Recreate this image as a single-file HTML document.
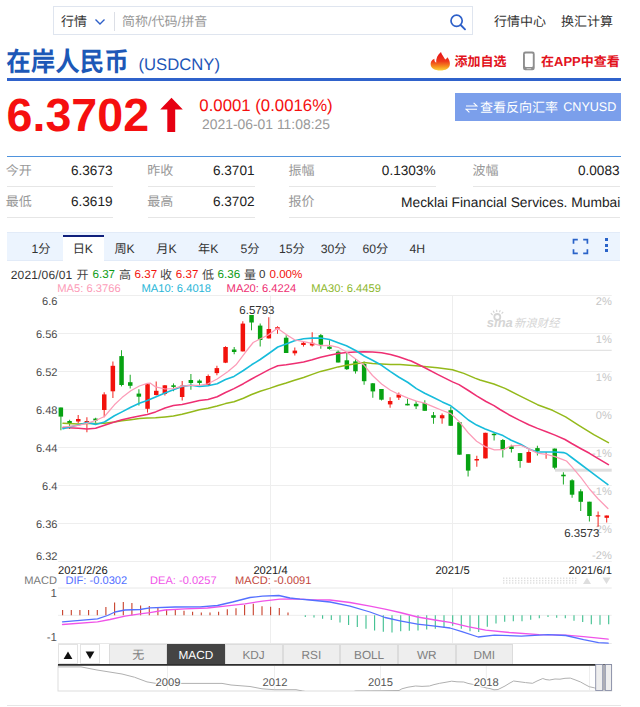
<!DOCTYPE html>
<html lang="zh"><head><meta charset="utf-8"><title>在岸人民币 USDCNY</title><style>
html,body{margin:0;padding:0;background:#fff;}
body{width:640px;height:707px;position:relative;overflow:hidden;font-family:"Liberation Sans", "Noto Sans CJK SC", sans-serif;text-rendering:geometricPrecision;}
.t{position:absolute;white-space:nowrap;}
.b{position:absolute;display:block;}
</style></head><body>
<div class="b" style="left:53.00px;top:6.40px;width:420.30px;height:29.00px;border:1px solid #dfe5ef;box-sizing:border-box;background:#fff;"></div>
<div class="t" style="top:12.00px;height:20px;line-height:20px;font-size:13px;color:#333;left:61.00px;">行情</div>
<svg class="b" style="left:94px;top:17px" width="12" height="10" viewBox="0 0 12 10"><path d="M1.5 2.5 L6 7 L10.5 2.5" fill="none" stroke="#2e60c9" stroke-width="1.4"/></svg>
<div class="b" style="left:114.00px;top:12.00px;width:1.00px;height:19.00px;background:#dcdfe6;"></div>
<div class="t" style="top:12.00px;height:20px;line-height:20px;font-size:13px;color:#999;left:122.00px;">简称/代码/拼音</div>
<svg class="b" style="left:448px;top:12px" width="20" height="20" viewBox="0 0 20 20"><circle cx="8.6" cy="8.8" r="5.6" fill="none" stroke="#2e60c9" stroke-width="1.7"/><path d="M12.7 13 L17 17.3" stroke="#2e60c9" stroke-width="1.9" stroke-linecap="round"/></svg>
<div class="t" style="top:11.50px;height:20px;line-height:20px;font-size:13px;color:#333;left:494.00px;">行情中心</div>
<div class="t" style="top:11.50px;height:20px;line-height:20px;font-size:13px;color:#333;left:561.00px;">换汇计算</div>
<div class="t" style="top:43.60px;height:37px;line-height:37px;font-size:24.5px;color:#1d58b7;left:6.30px;font-weight:bold;transform:scaleY(1.08);">在岸人民币</div>
<div class="t" style="top:52.30px;height:25px;line-height:25px;font-size:16.7px;color:#1f57b8;left:138.40px;">(USDCNY)</div>
<div class="b" style="left:6.50px;top:78.30px;width:614.00px;height:3.00px;background:#2f62cb;"></div>
<svg class="b" style="left:429px;top:50px" width="23" height="23" viewBox="429 50 23 23"><defs><linearGradient id="fl" x1="0" y1="0" x2="0" y2="1"><stop offset="0" stop-color="#e60f19"/><stop offset="0.5" stop-color="#ee3a1b"/><stop offset="0.8" stop-color="#f6941f"/><stop offset="1" stop-color="#fcd23c"/></linearGradient></defs><path d="M441 52 C441.6 55 444 56.8 445.2 59.6 C446 59.2 446.8 58.4 447.3 57.2 C449.3 59.6 450.3 62.4 449.8 65 C449.2 68.4 445.8 70.5 440.3 70.5 C434.8 70.5 431.2 68.4 430.7 65 C430.3 62.4 431.6 60 434.4 58.8 C434.2 60.6 434.8 62 436.2 62.8 C435.8 58.6 437.6 54.6 441 52 Z" fill="url(#fl)"/></svg>
<div class="t" style="top:52.30px;height:20px;line-height:20px;font-size:13px;color:#e2121c;left:454.50px;font-weight:bold;">添加自选</div>
<svg class="b" style="left:521px;top:50px" width="16" height="22" viewBox="521 50 16 22"><rect x="523" y="51.6" width="11.7" height="18.7" rx="2.3" fill="#8e8e8e"/><rect x="524.9" y="53.5" width="7.9" height="13.4" rx="0.8" fill="#fff"/><path d="M526.6 68.7 H531.2" stroke="#d2d2d2" stroke-width="1"/></svg>
<div class="t" style="top:52.30px;height:20px;line-height:20px;font-size:13px;color:#e2121c;left:541.00px;font-weight:bold;">在APP中查看</div>
<div class="t" style="top:90.30px;height:50px;line-height:50px;font-size:46.6px;color:#f50f0f;left:6.60px;font-weight:bold;">6.3702</div>
<svg class="b" style="left:160px;top:96px" width="25" height="38" viewBox="0 0 25 38"><path d="M11.5 1.8 L22.8 13.5 H15.2 V36 H7.3 V13.5 H0.2 Z" fill="#e60012"/></svg>
<div class="t" style="top:93.00px;height:25px;line-height:25px;font-size:16.8px;color:#f50f0f;left:199.30px;">0.0001 (0.0016%)</div>
<div class="t" style="top:114.00px;height:21px;line-height:21px;font-size:13.9px;color:#999;left:202.00px;">2021-06-01 11:08:25</div>
<div class="b" style="left:455.00px;top:92.80px;width:165.60px;height:27.80px;background:#7b9feb;"></div>
<svg class="b" style="left:465px;top:101px" width="13" height="13" viewBox="0 0 13 13"><path d="M1 5 H12 L8.6 1.8 M12 8.2 H1 L4.4 11.4" fill="none" stroke="#fff" stroke-width="1.1"/></svg>
<div class="t" style="top:97.50px;height:20px;line-height:20px;font-size:13px;color:#fff;left:480.00px;">查看反向汇率</div>
<div class="t" style="top:98.00px;height:19px;line-height:19px;font-size:12.6px;color:#fff;left:563.20px;">CNYUSD</div>
<div class="b" style="left:6.50px;top:155.50px;width:614.00px;height:1.30px;background:#4f93dd;"></div>
<div class="t" style="top:161.00px;height:20px;line-height:20px;font-size:13px;color:#999;left:5.70px;">今开</div>
<div class="t" style="top:161.00px;height:20px;line-height:20px;font-size:13.6px;color:#222;right:527.50px;">6.3673</div>
<div class="b" style="left:6.50px;top:186.00px;width:106.50px;height:1.00px;background:#e6e6e6;"></div>
<div class="t" style="top:161.00px;height:20px;line-height:20px;font-size:13px;color:#999;left:147.20px;">昨收</div>
<div class="t" style="top:161.00px;height:20px;line-height:20px;font-size:13.6px;color:#222;right:385.50px;">6.3701</div>
<div class="b" style="left:148.00px;top:186.00px;width:107.00px;height:1.00px;background:#e6e6e6;"></div>
<div class="t" style="top:161.00px;height:20px;line-height:20px;font-size:13px;color:#999;left:288.60px;">振幅</div>
<div class="t" style="top:161.00px;height:20px;line-height:20px;font-size:13.6px;color:#222;right:204.50px;">0.1303%</div>
<div class="b" style="left:289.40px;top:186.00px;width:146.60px;height:1.00px;background:#e6e6e6;"></div>
<div class="t" style="top:161.00px;height:20px;line-height:20px;font-size:13px;color:#999;left:472.50px;">波幅</div>
<div class="t" style="top:161.00px;height:20px;line-height:20px;font-size:13.6px;color:#222;right:20.50px;">0.0083</div>
<div class="b" style="left:473.30px;top:186.00px;width:146.70px;height:1.00px;background:#e6e6e6;"></div>
<div class="t" style="top:192.00px;height:20px;line-height:20px;font-size:13px;color:#999;left:5.70px;">最低</div>
<div class="t" style="top:192.00px;height:20px;line-height:20px;font-size:13.6px;color:#222;right:527.50px;">6.3619</div>
<div class="b" style="left:6.50px;top:217.00px;width:106.50px;height:1.00px;background:#e6e6e6;"></div>
<div class="t" style="top:192.00px;height:20px;line-height:20px;font-size:13px;color:#999;left:147.20px;">最高</div>
<div class="t" style="top:192.00px;height:20px;line-height:20px;font-size:13.6px;color:#222;right:385.50px;">6.3702</div>
<div class="b" style="left:148.00px;top:217.00px;width:107.00px;height:1.00px;background:#e6e6e6;"></div>
<div class="t" style="top:192.00px;height:20px;line-height:20px;font-size:13px;color:#999;left:288.60px;">报价</div>
<div class="t" style="top:191.50px;height:21px;line-height:21px;font-size:13.8px;color:#222;right:19.70px;">Mecklai Financial Services. Mumbai</div>
<div class="b" style="left:289.40px;top:217.00px;width:330.60px;height:1.00px;background:#e6e6e6;"></div>
<div class="b" style="left:6.70px;top:231.70px;width:613.80px;height:29.60px;background:#ecf4fe;border-top:1px solid #e2ebf8;border-bottom:1px solid #e2ebf8;box-sizing:border-box;"></div>
<div class="b" style="left:62.60px;top:234.60px;width:41.40px;height:26.70px;background:#fff;border-top:2px solid #10207c;box-sizing:border-box;"></div>
<div class="t" style="top:239.50px;height:18px;line-height:18px;font-size:12.2px;color:#333;left:41.00px;transform:translateX(-50%);">1分</div>
<div class="t" style="top:239.50px;height:18px;line-height:18px;font-size:12.2px;color:#333;left:82.80px;transform:translateX(-50%);">日K</div>
<div class="t" style="top:239.50px;height:18px;line-height:18px;font-size:12.2px;color:#333;left:124.60px;transform:translateX(-50%);">周K</div>
<div class="t" style="top:239.50px;height:18px;line-height:18px;font-size:12.2px;color:#333;left:166.40px;transform:translateX(-50%);">月K</div>
<div class="t" style="top:239.50px;height:18px;line-height:18px;font-size:12.2px;color:#333;left:208.20px;transform:translateX(-50%);">年K</div>
<div class="t" style="top:239.50px;height:18px;line-height:18px;font-size:12.2px;color:#333;left:250.00px;transform:translateX(-50%);">5分</div>
<div class="t" style="top:239.50px;height:18px;line-height:18px;font-size:12.2px;color:#333;left:291.80px;transform:translateX(-50%);">15分</div>
<div class="t" style="top:239.50px;height:18px;line-height:18px;font-size:12.2px;color:#333;left:333.60px;transform:translateX(-50%);">30分</div>
<div class="t" style="top:239.50px;height:18px;line-height:18px;font-size:12.2px;color:#333;left:375.40px;transform:translateX(-50%);">60分</div>
<div class="t" style="top:239.50px;height:18px;line-height:18px;font-size:12.2px;color:#333;left:417.20px;transform:translateX(-50%);">4H</div>
<svg class="b" style="left:572px;top:237.5px" width="17" height="17" viewBox="0 0 17 17"><path d="M1.5 5.8 V1.6 H5.8 M11.2 1.6 H15.4 V5.8 M15.4 11.2 V15.4 H11.2 M5.8 15.4 H1.5 V11.2" fill="none" stroke="#2a63c9" stroke-width="1.7"/></svg>
<div class="b" style="left:604.60px;top:238.30px;width:3.20px;height:3.20px;background:#2a63c9;"></div>
<div class="b" style="left:604.60px;top:243.80px;width:3.20px;height:3.20px;background:#2a63c9;"></div>
<div class="b" style="left:604.60px;top:249.30px;width:3.20px;height:3.20px;background:#2a63c9;"></div>
<div class="t" style="top:265.60px;height:18px;line-height:18px;font-size:12px;color:#333;left:10.80px;letter-spacing:0.15px;">2021/06/01</div>
<div class="t" style="top:265.60px;height:18px;line-height:18px;font-size:12px;color:#444;left:76.50px;">开</div>
<div class="t" style="top:265.60px;height:18px;line-height:18px;font-size:12px;color:#444;left:119.00px;">高</div>
<div class="t" style="top:265.60px;height:18px;line-height:18px;font-size:12px;color:#444;left:160.00px;">收</div>
<div class="t" style="top:265.60px;height:18px;line-height:18px;font-size:12px;color:#444;left:202.00px;">低</div>
<div class="t" style="top:265.60px;height:18px;line-height:18px;font-size:12px;color:#444;left:244.00px;">量</div>
<div class="t" style="top:266.10px;height:17px;line-height:17px;font-size:11.6px;color:#0a9b14;left:92.50px;">6.37</div>
<div class="t" style="top:266.10px;height:17px;line-height:17px;font-size:11.6px;color:#f2120c;left:134.60px;">6.37</div>
<div class="t" style="top:266.10px;height:17px;line-height:17px;font-size:11.6px;color:#f2120c;left:175.80px;">6.37</div>
<div class="t" style="top:266.10px;height:17px;line-height:17px;font-size:11.6px;color:#0a9b14;left:217.60px;">6.36</div>
<div class="t" style="top:266.10px;height:17px;line-height:17px;font-size:11.6px;color:#333;left:259.00px;">0</div>
<div class="t" style="top:266.10px;height:17px;line-height:17px;font-size:11.6px;color:#f2120c;left:269.50px;">0.00%</div>
<div class="t" style="top:280.50px;height:17px;line-height:17px;font-size:11.2px;color:#fc9cb8;left:57.20px;">MA5: 6.3766</div>
<div class="t" style="top:280.50px;height:17px;line-height:17px;font-size:11.2px;color:#29b6d8;left:141.40px;">MA10: 6.4018</div>
<div class="t" style="top:280.50px;height:17px;line-height:17px;font-size:11.2px;color:#ee2f72;left:226.60px;">MA20: 6.4224</div>
<div class="t" style="top:280.50px;height:17px;line-height:17px;font-size:11.2px;color:#8db72c;left:311.30px;">MA30: 6.4459</div>
<svg class="b" style="left:0;top:0" width="640" height="707" viewBox="0 0 640 707" font-family="'Liberation Sans', 'Noto Sans CJK SC', sans-serif">
<path d="M58 295.5 H611.7" stroke="#eeeeee" stroke-width="1"/>
<path d="M58 333.5 H611.7" stroke="#eeeeee" stroke-width="1"/>
<path d="M58 371.5 H611.7" stroke="#eeeeee" stroke-width="1"/>
<path d="M58 409.5 H611.7" stroke="#eeeeee" stroke-width="1"/>
<path d="M58 447.5 H611.7" stroke="#eeeeee" stroke-width="1"/>
<path d="M58 485.5 H611.7" stroke="#eeeeee" stroke-width="1"/>
<path d="M58 523.5 H611.7" stroke="#eeeeee" stroke-width="1"/>
<path d="M58 561.5 H611.7" stroke="#eeeeee" stroke-width="1"/>
<path d="M270.5 295.5 V561.5 M270.5 588 V643.5" stroke="#eeeeee" stroke-width="1"/>
<path d="M452.5 295.5 V561.5 M452.5 588 V643.5" stroke="#eeeeee" stroke-width="1"/>
<path d="M330 350.3 H611.7" stroke="#dcdcdc" stroke-width="1"/>
<rect x="555" y="468.7" width="56.700000000000045" height="3" fill="#dedede"/>
<text x="57.5" y="305.4" text-anchor="end" font-size="11.1" fill="#4d4d4d">6.6</text>
<text x="57.5" y="337.5" text-anchor="end" font-size="11.1" fill="#4d4d4d">6.56</text>
<text x="57.5" y="375.5" text-anchor="end" font-size="11.1" fill="#4d4d4d">6.52</text>
<text x="57.5" y="413.5" text-anchor="end" font-size="11.1" fill="#4d4d4d">6.48</text>
<text x="57.5" y="451.5" text-anchor="end" font-size="11.1" fill="#4d4d4d">6.44</text>
<text x="57.5" y="489.5" text-anchor="end" font-size="11.1" fill="#4d4d4d">6.4</text>
<text x="57.5" y="527.5" text-anchor="end" font-size="11.1" fill="#4d4d4d">6.36</text>
<text x="57.5" y="559.7" text-anchor="end" font-size="11.1" fill="#4d4d4d">6.32</text>
<text x="611.8" y="304.9" text-anchor="end" font-size="11.1" fill="#c6c6c6">2%</text>
<text x="611.8" y="342.9" text-anchor="end" font-size="11.1" fill="#c6c6c6">1%</text>
<text x="611.8" y="380.9" text-anchor="end" font-size="11.1" fill="#c6c6c6">1%</text>
<text x="611.8" y="418.9" text-anchor="end" font-size="11.1" fill="#c6c6c6">0%</text>
<text x="611.8" y="456.9" text-anchor="end" font-size="11.1" fill="#c6c6c6">-1%</text>
<text x="611.8" y="494.9" text-anchor="end" font-size="11.1" fill="#c6c6c6">-1%</text>
<text x="611.8" y="532.9" text-anchor="end" font-size="11.1" fill="#c6c6c6">-2%</text>
<text x="611.8" y="559.3" text-anchor="end" font-size="11.1" fill="#c6c6c6">-2%</text>
<g fill="#d5d5d5"><text x="486.8" y="327.4" font-size="13" font-weight="bold" font-style="italic" textLength="26" lengthAdjust="spacingAndGlyphs">sına</text><circle cx="497.3" cy="317" r="3" fill="none" stroke="#d5d5d5" stroke-width="1.8"/><path d="M492.6 315 L490.8 313.2 M494.2 312.9 L493.2 310.8 M496.8 312 L496.6 309.8 M499.4 312.2 L500.3 310.2 M501.6 313.6 L503.2 312" stroke="#d5d5d5" stroke-width="1.1" fill="none"/><text transform="translate(514,326.8) skewX(-14)" x="0" y="0" font-size="11.3" textLength="45.5" lengthAdjust="spacing">新浪财经</text></g>
<path d="M60.9 407.5 V430.3" stroke="#07a212" stroke-width="1.05" stroke-opacity="0.88"/>
<rect x="58.6" y="407.5" width="4.5" height="9.1" fill="#07a212"/>
<path d="M69.6 419.7 V429.0" stroke="#07a212" stroke-width="1.05" stroke-opacity="0.88"/>
<rect x="67.3" y="421.0" width="4.5" height="2.0" fill="#07a212"/>
<path d="M78.2 415.0 V423.6" stroke="#f2120c" stroke-width="1.05" stroke-opacity="0.88"/>
<rect x="76.0" y="419.0" width="4.5" height="2.5" fill="#f2120c"/>
<path d="M86.9 417.3 V432.2" stroke="#f2120c" stroke-width="1.05" stroke-opacity="0.88"/>
<rect x="84.6" y="421.0" width="4.5" height="1.5" fill="#f2120c"/>
<path d="M95.6 417.7 V422.8" stroke="#07a212" stroke-width="1.05" stroke-opacity="0.88"/>
<rect x="93.3" y="418.6" width="4.5" height="1.9" fill="#07a212"/>
<path d="M104.2 392.3 V417.3" stroke="#f2120c" stroke-width="1.05" stroke-opacity="0.88"/>
<rect x="102.0" y="394.4" width="4.5" height="15.6" fill="#f2120c"/>
<path d="M112.9 361.4 V398.1" stroke="#f2120c" stroke-width="1.05" stroke-opacity="0.88"/>
<rect x="110.6" y="365.8" width="4.5" height="25.5" fill="#f2120c"/>
<path d="M121.5 350.2 V386.4" stroke="#07a212" stroke-width="1.05" stroke-opacity="0.88"/>
<rect x="119.3" y="356.1" width="4.5" height="28.9" fill="#07a212"/>
<path d="M130.2 374.7 V388.4" stroke="#07a212" stroke-width="1.05" stroke-opacity="0.88"/>
<rect x="128.0" y="382.2" width="4.5" height="3.6" fill="#07a212"/>
<path d="M138.9 389.2 V405.6" stroke="#07a212" stroke-width="1.05" stroke-opacity="0.88"/>
<rect x="136.6" y="393.6" width="4.5" height="3.1" fill="#07a212"/>
<path d="M147.5 383.4 V412.6" stroke="#f2120c" stroke-width="1.05" stroke-opacity="0.88"/>
<rect x="145.3" y="384.2" width="4.5" height="24.6" fill="#f2120c"/>
<path d="M156.2 381.4 V395.5" stroke="#f2120c" stroke-width="1.05" stroke-opacity="0.88"/>
<rect x="154.0" y="390.8" width="4.5" height="4.2" fill="#f2120c"/>
<path d="M164.9 385.0 V395.5" stroke="#f2120c" stroke-width="1.05" stroke-opacity="0.88"/>
<rect x="162.6" y="385.3" width="4.5" height="8.6" fill="#f2120c"/>
<path d="M173.5 383.4 V391.2" stroke="#07a212" stroke-width="1.05" stroke-opacity="0.88"/>
<rect x="171.3" y="385.3" width="4.5" height="1.6" fill="#07a212"/>
<path d="M182.2 381.0 V400.6" stroke="#f2120c" stroke-width="1.05" stroke-opacity="0.88"/>
<rect x="179.9" y="385.6" width="4.5" height="11.4" fill="#f2120c"/>
<path d="M190.9 374.0 V389.7" stroke="#07a212" stroke-width="1.05" stroke-opacity="0.88"/>
<rect x="188.6" y="380.0" width="4.5" height="3.0" fill="#07a212"/>
<path d="M199.5 379.4 V385.3" stroke="#07a212" stroke-width="1.05" stroke-opacity="0.88"/>
<rect x="197.3" y="380.6" width="4.5" height="2.4" fill="#07a212"/>
<path d="M208.2 374.4 V385.0" stroke="#f2120c" stroke-width="1.05" stroke-opacity="0.88"/>
<rect x="205.9" y="376.0" width="4.5" height="9.0" fill="#f2120c"/>
<path d="M216.9 365.8 V375.2" stroke="#f2120c" stroke-width="1.05" stroke-opacity="0.88"/>
<rect x="214.6" y="368.1" width="4.5" height="5.0" fill="#f2120c"/>
<path d="M225.5 346.2 V363.1" stroke="#f2120c" stroke-width="1.05" stroke-opacity="0.88"/>
<rect x="223.3" y="347.0" width="4.5" height="15.7" fill="#f2120c"/>
<path d="M234.2 347.0 V354.2" stroke="#07a212" stroke-width="1.05" stroke-opacity="0.88"/>
<rect x="231.9" y="349.5" width="4.5" height="2.5" fill="#07a212"/>
<path d="M242.8 321.2 V351.4" stroke="#f2120c" stroke-width="1.05" stroke-opacity="0.88"/>
<rect x="240.6" y="323.6" width="4.5" height="27.8" fill="#f2120c"/>
<path d="M251.5 315.0 V330.3" stroke="#07a212" stroke-width="1.05" stroke-opacity="0.88"/>
<rect x="249.3" y="315.0" width="4.5" height="7.5" fill="#07a212"/>
<path d="M260.2 323.6 V346.6" stroke="#07a212" stroke-width="1.05" stroke-opacity="0.88"/>
<rect x="257.9" y="325.6" width="4.5" height="14.4" fill="#07a212"/>
<path d="M268.8 317.3 V338.4" stroke="#f2120c" stroke-width="1.05" stroke-opacity="0.88"/>
<rect x="266.6" y="329.0" width="4.5" height="9.4" fill="#f2120c"/>
<path d="M277.5 326.2 V333.8" stroke="#f2120c" stroke-width="1.05" stroke-opacity="0.88"/>
<rect x="275.2" y="327.2" width="4.5" height="1.6" fill="#f2120c"/>
<path d="M286.2 335.3 V353.0" stroke="#07a212" stroke-width="1.05" stroke-opacity="0.88"/>
<rect x="283.9" y="337.7" width="4.5" height="15.3" fill="#07a212"/>
<path d="M294.8 347.5 V355.6" stroke="#f2120c" stroke-width="1.05" stroke-opacity="0.88"/>
<rect x="292.6" y="350.6" width="4.5" height="2.7" fill="#f2120c"/>
<path d="M303.5 341.6 V346.6" stroke="#f2120c" stroke-width="1.05" stroke-opacity="0.88"/>
<rect x="301.2" y="342.8" width="4.5" height="2.2" fill="#f2120c"/>
<path d="M312.2 332.2 V346.6" stroke="#f2120c" stroke-width="1.05" stroke-opacity="0.88"/>
<rect x="309.9" y="342.8" width="4.5" height="2.7" fill="#f2120c"/>
<path d="M320.8 333.9 V348.8" stroke="#07a212" stroke-width="1.05" stroke-opacity="0.88"/>
<rect x="318.6" y="335.2" width="4.5" height="9.5" fill="#07a212"/>
<path d="M329.5 340.3 V349.7" stroke="#07a212" stroke-width="1.05" stroke-opacity="0.88"/>
<rect x="327.2" y="346.6" width="4.5" height="2.3" fill="#07a212"/>
<path d="M338.1 350.5 V362.5" stroke="#07a212" stroke-width="1.05" stroke-opacity="0.88"/>
<rect x="335.9" y="351.7" width="4.5" height="10.8" fill="#07a212"/>
<path d="M346.8 352.0 V370.0" stroke="#07a212" stroke-width="1.05" stroke-opacity="0.88"/>
<rect x="344.6" y="360.3" width="4.5" height="8.9" fill="#07a212"/>
<path d="M355.5 359.0 V373.6" stroke="#07a212" stroke-width="1.05" stroke-opacity="0.88"/>
<rect x="353.2" y="361.4" width="4.5" height="9.9" fill="#07a212"/>
<path d="M364.1 361.4 V384.8" stroke="#07a212" stroke-width="1.05" stroke-opacity="0.88"/>
<rect x="361.9" y="364.0" width="4.5" height="17.2" fill="#07a212"/>
<path d="M372.8 383.0 V397.7" stroke="#07a212" stroke-width="1.05" stroke-opacity="0.88"/>
<rect x="370.6" y="383.3" width="4.5" height="8.1" fill="#07a212"/>
<path d="M381.5 389.0 V400.5" stroke="#07a212" stroke-width="1.05" stroke-opacity="0.88"/>
<rect x="379.2" y="389.0" width="4.5" height="10.7" fill="#07a212"/>
<path d="M390.1 397.3 V407.8" stroke="#f2120c" stroke-width="1.05" stroke-opacity="0.88"/>
<rect x="387.9" y="401.0" width="4.5" height="3.4" fill="#f2120c"/>
<path d="M398.8 392.5 V400.0" stroke="#f2120c" stroke-width="1.05" stroke-opacity="0.88"/>
<rect x="396.5" y="394.5" width="4.5" height="3.1" fill="#f2120c"/>
<path d="M407.5 398.8 V405.3" stroke="#07a212" stroke-width="1.05" stroke-opacity="0.88"/>
<rect x="405.2" y="403.8" width="4.5" height="1.6" fill="#07a212"/>
<path d="M416.1 401.0 V409.0" stroke="#07a212" stroke-width="1.05" stroke-opacity="0.88"/>
<rect x="413.9" y="403.8" width="4.5" height="2.5" fill="#07a212"/>
<path d="M424.8 400.3 V410.8" stroke="#07a212" stroke-width="1.05" stroke-opacity="0.88"/>
<rect x="422.5" y="403.1" width="4.5" height="7.7" fill="#07a212"/>
<path d="M433.5 412.0 V423.8" stroke="#07a212" stroke-width="1.05" stroke-opacity="0.88"/>
<rect x="431.2" y="415.2" width="4.5" height="2.6" fill="#07a212"/>
<path d="M442.1 413.6 V423.8" stroke="#f2120c" stroke-width="1.05" stroke-opacity="0.88"/>
<rect x="439.9" y="415.2" width="4.5" height="3.1" fill="#f2120c"/>
<path d="M450.8 406.9 V425.8" stroke="#07a212" stroke-width="1.05" stroke-opacity="0.88"/>
<rect x="448.5" y="410.2" width="4.5" height="15.6" fill="#07a212"/>
<path d="M459.4 422.2 V454.7" stroke="#07a212" stroke-width="1.05" stroke-opacity="0.88"/>
<rect x="457.2" y="422.2" width="4.5" height="32.5" fill="#07a212"/>
<path d="M468.1 454.2 V476.6" stroke="#07a212" stroke-width="1.05" stroke-opacity="0.88"/>
<rect x="465.9" y="454.2" width="4.5" height="16.4" fill="#07a212"/>
<path d="M476.8 455.8 V466.7" stroke="#f2120c" stroke-width="1.05" stroke-opacity="0.88"/>
<rect x="474.5" y="459.0" width="4.5" height="1.5" fill="#f2120c"/>
<path d="M485.4 432.8 V458.4" stroke="#f2120c" stroke-width="1.05" stroke-opacity="0.88"/>
<rect x="483.2" y="432.8" width="4.5" height="25.6" fill="#f2120c"/>
<path d="M494.1 432.5 V440.6" stroke="#07a212" stroke-width="1.05" stroke-opacity="0.88"/>
<rect x="491.8" y="433.8" width="4.5" height="1.4" fill="#07a212"/>
<path d="M502.8 439.0 V457.5" stroke="#07a212" stroke-width="1.05" stroke-opacity="0.88"/>
<rect x="500.5" y="440.0" width="4.5" height="9.7" fill="#07a212"/>
<path d="M511.4 444.7 V452.5" stroke="#07a212" stroke-width="1.05" stroke-opacity="0.88"/>
<rect x="509.2" y="446.2" width="4.5" height="2.8" fill="#07a212"/>
<path d="M520.1 453.1 V467.7" stroke="#07a212" stroke-width="1.05" stroke-opacity="0.88"/>
<rect x="517.8" y="453.1" width="4.5" height="7.9" fill="#07a212"/>
<path d="M528.8 450.2 V462.7" stroke="#f2120c" stroke-width="1.05" stroke-opacity="0.88"/>
<rect x="526.5" y="452.0" width="4.5" height="10.7" fill="#f2120c"/>
<path d="M537.4 445.8 V455.6" stroke="#07a212" stroke-width="1.05" stroke-opacity="0.88"/>
<rect x="535.2" y="448.1" width="4.5" height="2.9" fill="#07a212"/>
<path d="M546.1 452.0 V458.8" stroke="#f2120c" stroke-width="1.05" stroke-opacity="0.88"/>
<path d="M554.7 448.6 V469.3" stroke="#07a212" stroke-width="1.05" stroke-opacity="0.88"/>
<rect x="552.5" y="448.6" width="4.5" height="19.1" fill="#07a212"/>
<path d="M563.4 472.2 V484.5" stroke="#07a212" stroke-width="1.05" stroke-opacity="0.88"/>
<rect x="561.2" y="474.7" width="4.5" height="1.6" fill="#07a212"/>
<path d="M572.1 479.2 V497.8" stroke="#07a212" stroke-width="1.05" stroke-opacity="0.88"/>
<rect x="569.8" y="480.3" width="4.5" height="14.4" fill="#07a212"/>
<path d="M580.7 489.2 V511.0" stroke="#07a212" stroke-width="1.05" stroke-opacity="0.88"/>
<rect x="578.5" y="491.3" width="4.5" height="10.5" fill="#07a212"/>
<path d="M589.4 501.7 V521.5" stroke="#07a212" stroke-width="1.05" stroke-opacity="0.88"/>
<rect x="587.2" y="501.7" width="4.5" height="14.3" fill="#07a212"/>
<path d="M598.1 511.5 V526.7" stroke="#f2120c" stroke-width="1.05" stroke-opacity="0.88"/>
<rect x="595.8" y="515.3" width="4.5" height="1.2" fill="#f2120c"/>
<path d="M606.7 515.5 V522.5" stroke="#f2120c" stroke-width="1.05" stroke-opacity="0.88"/>
<rect x="604.5" y="515.5" width="4.5" height="2.3" fill="#f2120c"/>
<polyline points="63.0,423.3 78.4,423.9 87.0,423.6 95.6,423.6 104.5,423.3 114.4,422.0 122.0,420.8 130.8,419.7 139.4,418.6 147.2,418.0 155.6,417.8 165.0,416.9 173.4,416.1 182.0,414.2 191.0,411.9 199.4,409.8 208.0,408.3 217.2,406.0 225.5,403.6 234.0,401.8 243.4,398.3 251.6,394.5 260.2,391.3 269.5,388.4 277.8,385.5 286.2,383.0 294.5,380.2 303.6,377.5 312.2,374.4 320.6,371.4 329.5,369.2 338.1,366.9 346.4,365.3 355.6,363.8 364.2,362.5 372.5,363.4 381.6,364.0 390.5,364.5 400.0,364.6 418.8,366.0 437.5,367.8 452.5,369.7 463.8,373.4 475.0,378.1 480.0,380.0 493.8,384.0 505.0,388.4 518.8,395.3 537.5,404.7 552.5,410.3 565.6,416.9 578.8,425.3 593.8,434.7 608.4,442.7" fill="none" stroke="#94b91b" stroke-width="1.5" stroke-linejoin="round" stroke-linecap="round"/>
<polyline points="63.0,427.5 78.4,428.3 87.0,429.0 95.6,428.3 104.5,425.2 114.4,422.0 122.0,419.7 130.8,417.7 139.4,416.1 147.2,414.5 155.6,411.9 165.0,408.0 173.4,405.6 182.0,404.4 191.0,402.5 199.4,400.6 208.0,399.6 217.2,396.8 225.5,392.5 234.0,388.6 243.4,383.7 251.6,379.0 260.2,374.4 269.5,369.4 277.8,365.8 286.2,364.7 294.5,363.4 303.6,361.9 312.2,359.7 320.6,357.2 329.5,355.2 338.1,353.6 346.4,352.5 355.6,352.0 364.2,351.7 372.5,352.0 381.6,352.8 390.5,354.4 398.6,356.7 408.0,360.0 411.2,361.0 422.5,366.5 437.5,374.4 452.5,381.9 459.0,384.6 468.4,390.5 476.6,395.8 486.0,401.5 494.0,405.6 500.0,409.5 508.8,414.7 518.8,419.9 528.8,424.7 537.5,428.4 546.4,431.8 555.0,435.1 565.0,439.5 571.7,443.5 581.0,448.7 589.5,453.3 597.8,458.4 608.4,464.7" fill="none" stroke="#ee2f72" stroke-width="1.55" stroke-linejoin="round" stroke-linecap="round"/>
<polyline points="63.0,428.6 69.5,427.0 78.4,425.0 87.0,422.4 95.6,424.4 104.5,422.0 114.4,415.8 122.0,411.9 130.8,407.2 139.4,403.3 147.2,400.6 155.6,397.0 165.0,393.1 173.4,389.7 182.0,386.4 191.0,385.3 199.4,386.4 208.0,385.8 217.2,383.8 225.5,379.5 234.0,376.4 243.4,370.5 251.6,364.8 260.2,359.5 269.5,353.0 277.8,347.0 286.2,343.9 294.5,340.8 303.6,338.8 312.2,338.1 320.6,338.0 329.5,339.5 338.1,342.7 346.4,345.8 355.6,350.5 364.2,356.0 372.5,360.3 381.6,365.3 390.5,371.6 398.6,377.0 408.0,382.5 416.4,388.6 424.7,393.3 433.0,397.2 442.3,401.9 450.8,405.8 459.0,412.2 468.4,420.0 476.6,425.1 485.2,429.1 494.4,432.5 503.0,435.6 511.2,440.3 520.6,444.2 528.8,448.9 537.3,452.0 546.4,452.0 555.0,452.0 563.6,452.6 566.2,453.4 571.7,457.5 581.0,464.5 589.5,470.9 597.8,477.1 607.9,484.6" fill="none" stroke="#17bcdb" stroke-width="1.6" stroke-linejoin="round" stroke-linecap="round"/>
<polyline points="63.0,427.0 69.5,426.3 78.4,425.4 86.0,423.6 95.6,420.5 104.5,416.5 114.4,404.8 122.0,397.6 130.8,390.8 139.4,386.0 147.2,383.3 150.5,383.2 155.6,386.9 165.0,389.0 173.4,388.7 182.0,386.1 191.0,385.3 199.4,385.3 208.0,383.8 217.2,379.0 227.7,371.8 236.0,364.8 245.6,352.0 253.2,342.5 259.0,339.5 268.5,334.8 277.4,328.2 286.3,334.6 295.0,340.0 303.6,341.6 312.2,343.4 320.6,345.6 329.5,345.3 338.1,347.3 346.4,352.0 355.6,359.0 364.2,365.3 372.5,375.5 381.6,384.0 390.5,390.3 398.6,394.2 408.0,398.1 416.4,401.1 424.7,403.1 433.0,406.6 442.3,410.5 450.8,413.6 459.0,421.4 468.4,433.0 476.6,441.2 485.2,446.6 494.4,449.8 503.0,449.7 511.2,445.8 520.6,445.3 528.8,448.9 537.3,453.1 546.4,454.4 555.0,456.6 563.6,459.8 566.5,461.0 571.7,466.6 581.0,477.6 589.5,489.0 597.8,498.5 607.9,508.5" fill="none" stroke="#fc9cb8" stroke-width="1.25" stroke-linejoin="round" stroke-linecap="round"/>
<text x="256.9" y="313.5" text-anchor="middle" font-size="11.5" fill="#333">6.5793</text>
<text x="581.8" y="537" text-anchor="middle" font-size="11.5" fill="#333">6.3573</text>
<text x="58" y="574" font-size="11.2" fill="#222">2021/2/26</text>
<text x="270.5" y="574" text-anchor="middle" font-size="11.2" fill="#222">2021/4</text>
<text x="452.5" y="574" text-anchor="middle" font-size="11.2" fill="#222">2021/5</text>
<text x="612" y="574" text-anchor="end" font-size="11.2" fill="#222">2021/6/1</text>
<text x="57" y="584" text-anchor="end" font-size="11.1" fill="#777">MACD</text>
<text x="65.5" y="584" font-size="11.1" fill="#5470ff">DIF: -0.0302</text>
<text x="150" y="584" font-size="11.1" fill="#f054e8">DEA: -0.0257</text>
<text x="235" y="584" font-size="11.1" fill="#c2453a">MACD: -0.0091</text>
<g fill="#dedede"><rect x="503.0" y="577.5" width="1.4" height="1.4"/><rect x="506.0" y="577.5" width="1.4" height="1.4"/><rect x="509.0" y="577.5" width="1.4" height="1.4"/><rect x="512.0" y="577.5" width="1.4" height="1.4"/><rect x="515.0" y="577.5" width="1.4" height="1.4"/><rect x="518.0" y="577.5" width="1.4" height="1.4"/><rect x="521.0" y="577.5" width="1.4" height="1.4"/><rect x="524.0" y="577.5" width="1.4" height="1.4"/><rect x="527.0" y="577.5" width="1.4" height="1.4"/><rect x="530.0" y="577.5" width="1.4" height="1.4"/><rect x="533.0" y="577.5" width="1.4" height="1.4"/><rect x="536.0" y="577.5" width="1.4" height="1.4"/><rect x="539.0" y="577.5" width="1.4" height="1.4"/><rect x="542.0" y="577.5" width="1.4" height="1.4"/><rect x="545.0" y="577.5" width="1.4" height="1.4"/><rect x="548.0" y="577.5" width="1.4" height="1.4"/><rect x="551.0" y="577.5" width="1.4" height="1.4"/><rect x="554.0" y="577.5" width="1.4" height="1.4"/><rect x="557.0" y="577.5" width="1.4" height="1.4"/><rect x="560.0" y="577.5" width="1.4" height="1.4"/><rect x="563.0" y="577.5" width="1.4" height="1.4"/><rect x="566.0" y="577.5" width="1.4" height="1.4"/><rect x="569.0" y="577.5" width="1.4" height="1.4"/><rect x="572.0" y="577.5" width="1.4" height="1.4"/><rect x="575.0" y="577.5" width="1.4" height="1.4"/><rect x="503.0" y="579.9" width="1.4" height="1.4"/><rect x="506.0" y="579.9" width="1.4" height="1.4"/><rect x="509.0" y="579.9" width="1.4" height="1.4"/><rect x="512.0" y="579.9" width="1.4" height="1.4"/><rect x="515.0" y="579.9" width="1.4" height="1.4"/><rect x="518.0" y="579.9" width="1.4" height="1.4"/><rect x="521.0" y="579.9" width="1.4" height="1.4"/><rect x="524.0" y="579.9" width="1.4" height="1.4"/><rect x="527.0" y="579.9" width="1.4" height="1.4"/><rect x="530.0" y="579.9" width="1.4" height="1.4"/><rect x="533.0" y="579.9" width="1.4" height="1.4"/><rect x="536.0" y="579.9" width="1.4" height="1.4"/><rect x="539.0" y="579.9" width="1.4" height="1.4"/><rect x="542.0" y="579.9" width="1.4" height="1.4"/><rect x="545.0" y="579.9" width="1.4" height="1.4"/><rect x="548.0" y="579.9" width="1.4" height="1.4"/><rect x="551.0" y="579.9" width="1.4" height="1.4"/><rect x="554.0" y="579.9" width="1.4" height="1.4"/><rect x="557.0" y="579.9" width="1.4" height="1.4"/><rect x="560.0" y="579.9" width="1.4" height="1.4"/><rect x="563.0" y="579.9" width="1.4" height="1.4"/><rect x="566.0" y="579.9" width="1.4" height="1.4"/><rect x="569.0" y="579.9" width="1.4" height="1.4"/><rect x="572.0" y="579.9" width="1.4" height="1.4"/><rect x="575.0" y="579.9" width="1.4" height="1.4"/><rect x="503.0" y="582.3" width="1.4" height="1.4"/><rect x="506.0" y="582.3" width="1.4" height="1.4"/><rect x="509.0" y="582.3" width="1.4" height="1.4"/><rect x="512.0" y="582.3" width="1.4" height="1.4"/><rect x="515.0" y="582.3" width="1.4" height="1.4"/><rect x="518.0" y="582.3" width="1.4" height="1.4"/><rect x="521.0" y="582.3" width="1.4" height="1.4"/><rect x="524.0" y="582.3" width="1.4" height="1.4"/><rect x="527.0" y="582.3" width="1.4" height="1.4"/><rect x="530.0" y="582.3" width="1.4" height="1.4"/><rect x="533.0" y="582.3" width="1.4" height="1.4"/><rect x="536.0" y="582.3" width="1.4" height="1.4"/><rect x="539.0" y="582.3" width="1.4" height="1.4"/><rect x="542.0" y="582.3" width="1.4" height="1.4"/><rect x="545.0" y="582.3" width="1.4" height="1.4"/><rect x="548.0" y="582.3" width="1.4" height="1.4"/><rect x="551.0" y="582.3" width="1.4" height="1.4"/><rect x="554.0" y="582.3" width="1.4" height="1.4"/><rect x="557.0" y="582.3" width="1.4" height="1.4"/><rect x="560.0" y="582.3" width="1.4" height="1.4"/><rect x="563.0" y="582.3" width="1.4" height="1.4"/><rect x="566.0" y="582.3" width="1.4" height="1.4"/><rect x="569.0" y="582.3" width="1.4" height="1.4"/><rect x="572.0" y="582.3" width="1.4" height="1.4"/><rect x="575.0" y="582.3" width="1.4" height="1.4"/><path d="M583 584 L587 577.5 L591 584 Z M602.5 577.5 L606.5 584 L610.5 577.5 Z"/></g>
<path d="M58 588 H611.7 M58 643.5 H611.7" stroke="#e8e8e8" stroke-width="1"/>
<path d="M58 615.3 H611.7" stroke="#ededed" stroke-width="1"/>
<text x="57" y="597" text-anchor="end" font-size="11.5" fill="#555">1</text>
<text x="57" y="640.8" text-anchor="end" font-size="11.5" fill="#555">-1</text>
<path d="M62.6 615.3 V610.0" stroke="#c8402a" stroke-width="1.1"/>
<path d="M71.3 615.3 V610.0" stroke="#c8402a" stroke-width="1.1"/>
<path d="M79.9 615.3 V610.0" stroke="#c8402a" stroke-width="1.1"/>
<path d="M88.6 615.3 V610.0" stroke="#c8402a" stroke-width="1.1"/>
<path d="M97.3 615.3 V610.0" stroke="#c8402a" stroke-width="1.1"/>
<path d="M105.9 615.3 V607.0" stroke="#c8402a" stroke-width="1.1"/>
<path d="M114.6 615.3 V602.5" stroke="#c8402a" stroke-width="1.1"/>
<path d="M123.3 615.3 V602.0" stroke="#c8402a" stroke-width="1.1"/>
<path d="M131.9 615.3 V603.0" stroke="#c8402a" stroke-width="1.1"/>
<path d="M140.6 615.3 V605.5" stroke="#c8402a" stroke-width="1.1"/>
<path d="M149.3 615.3 V606.0" stroke="#c8402a" stroke-width="1.1"/>
<path d="M157.9 615.3 V608.0" stroke="#c8402a" stroke-width="1.1"/>
<path d="M166.6 615.3 V609.5" stroke="#c8402a" stroke-width="1.1"/>
<path d="M175.3 615.3 V610.0" stroke="#c8402a" stroke-width="1.1"/>
<path d="M184.0 615.3 V610.8" stroke="#c8402a" stroke-width="1.1"/>
<path d="M192.6 615.3 V611.8" stroke="#c8402a" stroke-width="1.1"/>
<path d="M201.3 615.3 V612.5" stroke="#c8402a" stroke-width="1.1"/>
<path d="M210.0 615.3 V612.5" stroke="#c8402a" stroke-width="1.1"/>
<path d="M218.6 615.3 V611.8" stroke="#c8402a" stroke-width="1.1"/>
<path d="M227.3 615.3 V609.2" stroke="#c8402a" stroke-width="1.1"/>
<path d="M236.0 615.3 V608.2" stroke="#c8402a" stroke-width="1.1"/>
<path d="M244.6 615.3 V605.0" stroke="#c8402a" stroke-width="1.1"/>
<path d="M253.3 615.3 V603.8" stroke="#c8402a" stroke-width="1.1"/>
<path d="M262.0 615.3 V606.2" stroke="#c8402a" stroke-width="1.1"/>
<path d="M270.6 615.3 V606.8" stroke="#c8402a" stroke-width="1.1"/>
<path d="M279.3 615.3 V608.0" stroke="#c8402a" stroke-width="1.1"/>
<path d="M288.0 615.3 V612.5" stroke="#c8402a" stroke-width="1.1"/>
<path d="M305.3 615.3 V617.0" stroke="#3dbf8e" stroke-width="1.1"/>
<path d="M314.0 615.3 V617.5" stroke="#3dbf8e" stroke-width="1.1"/>
<path d="M322.6 615.3 V618.8" stroke="#3dbf8e" stroke-width="1.1"/>
<path d="M331.3 615.3 V620.0" stroke="#3dbf8e" stroke-width="1.1"/>
<path d="M340.0 615.3 V622.5" stroke="#3dbf8e" stroke-width="1.1"/>
<path d="M348.6 615.3 V625.0" stroke="#3dbf8e" stroke-width="1.1"/>
<path d="M357.3 615.3 V627.0" stroke="#3dbf8e" stroke-width="1.1"/>
<path d="M366.0 615.3 V628.8" stroke="#3dbf8e" stroke-width="1.1"/>
<path d="M374.6 615.3 V630.5" stroke="#3dbf8e" stroke-width="1.1"/>
<path d="M383.3 615.3 V631.8" stroke="#3dbf8e" stroke-width="1.1"/>
<path d="M392.0 615.3 V632.5" stroke="#3dbf8e" stroke-width="1.1"/>
<path d="M400.7 615.3 V631.2" stroke="#3dbf8e" stroke-width="1.1"/>
<path d="M409.3 615.3 V630.8" stroke="#3dbf8e" stroke-width="1.1"/>
<path d="M418.0 615.3 V630.5" stroke="#3dbf8e" stroke-width="1.1"/>
<path d="M426.7 615.3 V629.5" stroke="#3dbf8e" stroke-width="1.1"/>
<path d="M435.3 615.3 V628.8" stroke="#3dbf8e" stroke-width="1.1"/>
<path d="M444.0 615.3 V627.5" stroke="#3dbf8e" stroke-width="1.1"/>
<path d="M452.7 615.3 V625.8" stroke="#3dbf8e" stroke-width="1.1"/>
<path d="M461.3 615.3 V628.8" stroke="#3dbf8e" stroke-width="1.1"/>
<path d="M470.0 615.3 V631.3" stroke="#3dbf8e" stroke-width="1.1"/>
<path d="M478.7 615.3 V632.0" stroke="#3dbf8e" stroke-width="1.1"/>
<path d="M487.3 615.3 V626.8" stroke="#3dbf8e" stroke-width="1.1"/>
<path d="M496.0 615.3 V623.4" stroke="#3dbf8e" stroke-width="1.1"/>
<path d="M504.7 615.3 V621.8" stroke="#3dbf8e" stroke-width="1.1"/>
<path d="M513.3 615.3 V621.3" stroke="#3dbf8e" stroke-width="1.1"/>
<path d="M522.0 615.3 V621.3" stroke="#3dbf8e" stroke-width="1.1"/>
<path d="M530.7 615.3 V619.8" stroke="#3dbf8e" stroke-width="1.1"/>
<path d="M539.3 615.3 V618.3" stroke="#3dbf8e" stroke-width="1.1"/>
<path d="M548.0 615.3 V617.1" stroke="#3dbf8e" stroke-width="1.1"/>
<path d="M556.7 615.3 V617.7" stroke="#3dbf8e" stroke-width="1.1"/>
<path d="M565.3 615.3 V618.3" stroke="#3dbf8e" stroke-width="1.1"/>
<path d="M574.0 615.3 V620.7" stroke="#3dbf8e" stroke-width="1.1"/>
<path d="M582.7 615.3 V622.1" stroke="#3dbf8e" stroke-width="1.1"/>
<path d="M591.3 615.3 V624.2" stroke="#3dbf8e" stroke-width="1.1"/>
<path d="M600.0 615.3 V624.8" stroke="#3dbf8e" stroke-width="1.1"/>
<path d="M608.7 615.3 V624.2" stroke="#3dbf8e" stroke-width="1.1"/>
<polyline points="62.5,624.5 97.5,621.8 110.0,619.5 125.0,616.2 140.0,613.8 150.0,612.6 165.0,610.0 185.0,608.8 207.5,608.0 225.0,606.2 245.0,603.8 262.5,601.2 280.0,599.2 295.0,598.8 310.0,599.6 330.0,600.0 350.0,602.5 370.0,606.2 385.0,609.2 400.0,612.5 417.5,617.0 435.0,620.0 450.0,622.3 467.8,626.6 485.6,630.2 509.4,632.5 539.0,634.6 565.8,635.2 583.6,636.7 598.5,638.2 608.2,639.1" fill="none" stroke="#f054e8" stroke-width="1.3" stroke-linejoin="round" stroke-linecap="round"/>
<polyline points="62.5,621.8 97.5,618.8 107.5,615.5 115.0,612.0 125.0,610.0 140.0,609.5 150.0,607.8 175.0,607.0 200.0,606.8 217.5,605.5 232.5,602.0 250.0,597.5 262.5,596.2 278.8,595.5 290.0,598.0 300.0,599.2 310.0,600.0 330.0,602.0 350.0,606.2 370.0,612.0 385.0,617.5 400.0,620.8 417.5,624.2 435.0,626.2 450.0,628.0 461.9,631.6 478.2,637.0 494.5,635.2 521.3,636.1 548.0,634.6 565.8,635.5 583.6,639.7 598.5,642.6 608.2,643.2" fill="none" stroke="#5470ff" stroke-width="1.3" stroke-linejoin="round" stroke-linecap="round"/>
<rect x="58" y="665" width="553.7" height="26" fill="#fff" stroke="#ddd" stroke-width="1"/>
<path d="M167.5 666 V691" stroke="#eeeeee" stroke-width="1"/>
<path d="M274.5 666 V691" stroke="#eeeeee" stroke-width="1"/>
<path d="M380.5 666 V691" stroke="#eeeeee" stroke-width="1"/>
<path d="M486.3 666 V691" stroke="#eeeeee" stroke-width="1"/>
<path d="M589.5 666 V691" stroke="#eeeeee" stroke-width="1"/>
<clipPath id="mc"><rect x="58" y="665" width="553.7" height="26"/></clipPath>
<g clip-path="url(#mc)"><polyline points="57.8,666.9 81.0,666.9 97.0,670.0 122.0,674.0 134.4,677.2 147.0,681.9 156.0,683.4 181.0,683.4 222.0,683.4 231.0,685.0 250.0,686.5 262.0,688.8 274.4,689.7 296.0,689.7 302.5,691.0 320.0,694.0 345.0,694.0 355.6,691.0 380.0,690.8 399.0,690.5 401.9,688.8 408.0,687.2 415.6,686.0 422.0,686.4 429.4,686.0 434.0,684.6 439.7,683.3 445.0,682.4 451.7,681.2 457.0,681.8 463.7,682.0 468.0,683.4 472.3,684.3 478.0,686.0 484.0,687.4 490.0,688.6 494.0,689.8 498.0,689.5 501.0,688.0 505.0,686.0 509.0,683.5 513.6,681.0 518.0,681.6 525.6,682.6 532.5,683.3 537.0,681.0 542.8,678.5 546.0,679.6 549.6,680.0 555.0,679.0 560.0,679.2 565.0,678.3 570.3,678.1 575.0,679.8 580.6,682.0 585.0,684.5 589.2,686.7 594.3,687.8 598.8,689.4 611.0,690.0" fill="none" stroke="#b0b0b0" stroke-width="1" stroke-linejoin="round" stroke-linecap="round"/></g>
<text x="168" y="686.3" text-anchor="middle" font-size="11.2" fill="#555" stroke="#fff" stroke-width="2.5" paint-order="stroke" stroke-opacity="0.85">2009</text>
<text x="275" y="686.3" text-anchor="middle" font-size="11.2" fill="#555" stroke="#fff" stroke-width="2.5" paint-order="stroke" stroke-opacity="0.85">2012</text>
<text x="380.5" y="686.3" text-anchor="middle" font-size="11.2" fill="#555" stroke="#fff" stroke-width="2.5" paint-order="stroke" stroke-opacity="0.85">2015</text>
<text x="486.3" y="686.3" text-anchor="middle" font-size="11.2" fill="#555" stroke="#fff" stroke-width="2.5" paint-order="stroke" stroke-opacity="0.85">2018</text>
<path d="M58 664.9 H611.7" stroke="#2e2e2e" stroke-width="1.6"/>
<rect x="602.6" y="664.6" width="2.8" height="25.8" fill="#b4b4b8"/>
<rect x="595.7" y="664.5" width="7" height="26" fill="#eeeeee" stroke="#8a90a8" stroke-width="0.9"/>
<rect x="605.3" y="664.5" width="6.2" height="26" fill="#eeeeee" stroke="#8a90a8" stroke-width="0.9"/>
</svg>
<div class="b" style="left:58.00px;top:643.80px;width:19.50px;height:20.00px;border:1px solid #e3e3e3;box-sizing:border-box;background:#fff;"></div>
<div class="b" style="left:80.00px;top:643.80px;width:20.00px;height:20.00px;border:1px solid #e3e3e3;box-sizing:border-box;background:#fff;"></div>
<svg class="b" style="left:62px;top:648px" width="12" height="12" viewBox="0 0 12 12"><path d="M6 3.4 L10.4 11 H1.6 Z" fill="#111"/></svg>
<svg class="b" style="left:84px;top:648px" width="12" height="12" viewBox="0 0 12 12"><path d="M6 11 L10.4 3.4 H1.6 Z" fill="#111"/></svg>
<div class="b" style="left:109.30px;top:643.80px;width:57.70px;height:20.40px;background:#eee;border:1px solid #dcdcdc;border-bottom:none;box-sizing:border-box;"></div>
<div class="t" style="top:645.50px;height:18px;line-height:18px;font-size:12px;color:#808080;left:138.15px;transform:translateX(-50%);">无</div>
<div class="b" style="left:167.00px;top:643.80px;width:57.60px;height:20.40px;background:#444;"></div>
<div class="t" style="top:645.50px;height:18px;line-height:18px;font-size:11.8px;color:#fff;left:195.80px;transform:translateX(-50%);">MACD</div>
<div class="b" style="left:224.60px;top:643.80px;width:58.00px;height:20.40px;background:#eee;border:1px solid #dcdcdc;border-bottom:none;box-sizing:border-box;"></div>
<div class="t" style="top:645.50px;height:18px;line-height:18px;font-size:11.8px;color:#808080;left:253.60px;transform:translateX(-50%);">KDJ</div>
<div class="b" style="left:282.60px;top:643.80px;width:57.60px;height:20.40px;background:#eee;border:1px solid #dcdcdc;border-bottom:none;box-sizing:border-box;"></div>
<div class="t" style="top:645.50px;height:18px;line-height:18px;font-size:11.8px;color:#808080;left:311.40px;transform:translateX(-50%);">RSI</div>
<div class="b" style="left:340.20px;top:643.80px;width:57.80px;height:20.40px;background:#eee;border:1px solid #dcdcdc;border-bottom:none;box-sizing:border-box;"></div>
<div class="t" style="top:645.50px;height:18px;line-height:18px;font-size:11.8px;color:#808080;left:369.10px;transform:translateX(-50%);">BOLL</div>
<div class="b" style="left:398.00px;top:643.80px;width:57.50px;height:20.40px;background:#eee;border:1px solid #dcdcdc;border-bottom:none;box-sizing:border-box;"></div>
<div class="t" style="top:645.50px;height:18px;line-height:18px;font-size:11.8px;color:#808080;left:426.75px;transform:translateX(-50%);">WR</div>
<div class="b" style="left:455.50px;top:643.80px;width:57.50px;height:20.40px;background:#eee;border:1px solid #dcdcdc;border-bottom:none;box-sizing:border-box;"></div>
<div class="t" style="top:645.50px;height:18px;line-height:18px;font-size:11.8px;color:#808080;left:484.25px;transform:translateX(-50%);">DMI</div>
<div class="b" style="left:6.50px;top:705.00px;width:614.30px;height:1.40px;background:#e6e6e6;"></div>
</body></html>
